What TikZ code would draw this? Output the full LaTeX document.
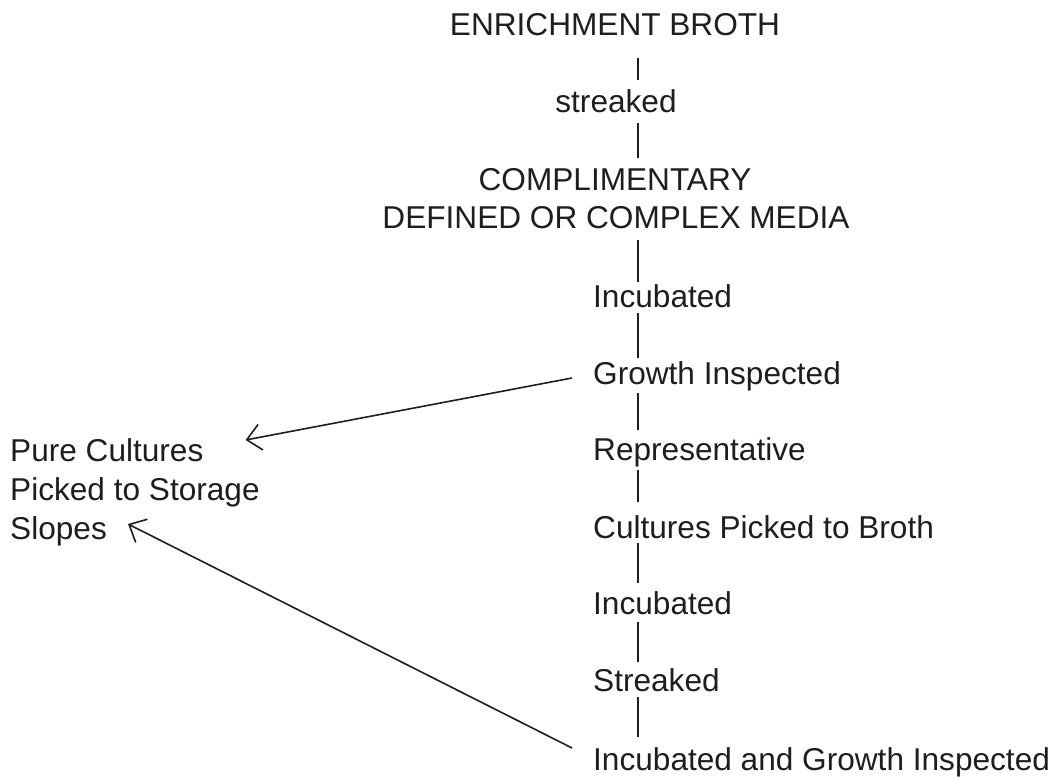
\documentclass[tikz,border=0pt]{standalone}
\usepackage{fontspec}
\setmainfont{Liberation Sans}
\usetikzlibrary{arrows.meta}
\definecolor{ink}{HTML}{1E1E1E}
\begin{document}
\begin{tikzpicture}[x=1pt,y=1pt,
  lbl/.style={inner sep=0pt,text=ink,font=\fontsize{31.6}{38.5}\selectfont},
  conn/.style={draw=ink,line width=1.6pt},
  arr/.style={draw=ink,line width=1.6pt,-{Straight Barb[length=14pt,width=26pt,line width=1.6pt]}}]
\useasboundingbox[fill=white] (0,0) rectangle (1059,-776);
\coordinate (ax) at (638,0);
% top (centred) texts
\node[lbl,anchor=base] (enrich)   at (615,-36)  {ENRICHMENT BROTH};
\node[lbl,anchor=base] (streak1)  at (616,-112) {streaked};
\node[lbl,anchor=base] (compl)    at (615,-190) {COMPLIMENTARY};
\node[lbl,anchor=base] (defined)  at (616,-228) {DEFINED OR COMPLEX MEDIA};
% right column texts
\node[lbl,anchor=base west] (inc1)   at (593,-307) {Incubated};
\node[lbl,anchor=base west] (growth) at (593,-384) {Growth Inspected};
\node[lbl,anchor=base west] (repr)   at (593,-460) {Representative};
\node[lbl,anchor=base west] (cult)   at (593,-538) {Cultures Picked to Broth};
\node[lbl,anchor=base west] (inc2)   at (593,-614) {Incubated};
\node[lbl,anchor=base west] (streak2) at (593,-691) {Streaked};
\node[lbl,anchor=base west] (igi)    at (593,-770) {Incubated and Growth Inspected};
% left texts
\node[lbl,anchor=base west] (pure)   at (10,-461) {Pure Cultures};
\node[lbl,anchor=base west] (picked) at (10,-500) {Picked to Storage};
\node[lbl,anchor=base west] (slopes) at (10,-539) {Slopes};
% vertical connectors
\draw[conn] ([yshift=-22pt]enrich.base -| ax)  -- ([yshift=32pt]streak1.base -| ax);
\draw[conn] ([yshift=-11pt]streak1.base -| ax) -- ([yshift=32pt]compl.base -| ax);
\draw[conn] ([yshift=-12pt]defined.base -| ax) -- ([yshift=25pt]inc1.base -| ax);
\draw[conn] ([yshift=-6pt]inc1.base -| ax)     -- ([yshift=26pt]growth.base -| ax);
\draw[conn] ([yshift=-9pt]growth.base -| ax)   -- ([yshift=30pt]repr.base -| ax);
\draw[conn] ([yshift=-10pt]repr.base -| ax)    -- ([yshift=36pt]cult.base -| ax);
\draw[conn] ([yshift=-5pt]cult.base -| ax)     -- ([yshift=31pt]inc2.base -| ax);
\draw[conn] ([yshift=-8pt]inc2.base -| ax)     -- ([yshift=29pt]streak2.base -| ax);
\draw[conn] ([yshift=-6pt]streak2.base -| ax)  -- ([yshift=33pt]igi.base -| ax);
% diagonal arrows
\draw[arr] ([xshift=-21pt,yshift=6pt]growth.base west) -- ([xshift=42pt,yshift=21pt]pure.base east);
\draw[arr] ([xshift=-21pt,yshift=22pt]igi.base west) -- ([xshift=21pt,yshift=15pt]slopes.base east);
\end{tikzpicture}
\end{document}
